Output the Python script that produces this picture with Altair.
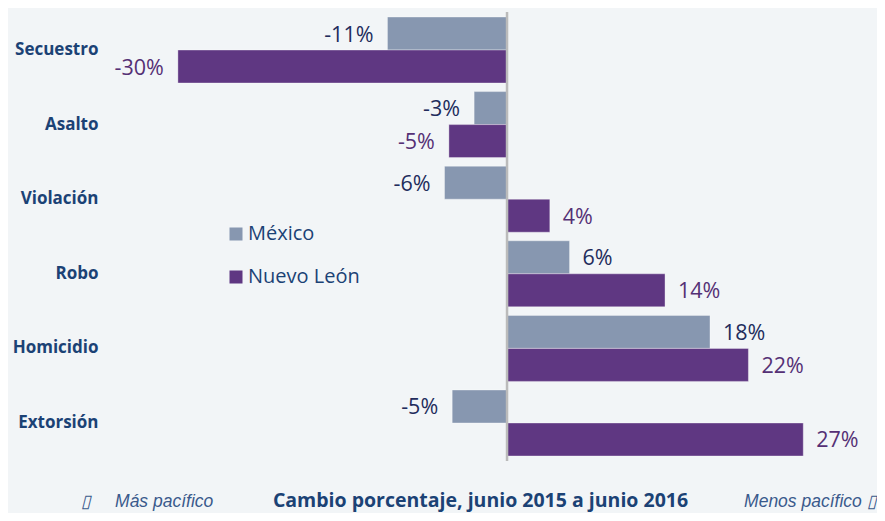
import altair as alt
import pandas as pd

categories = ["Secuestro", "Asalto", "Violación", "Robo", "Homicidio", "Extorsión"]
series = ["México", "Nuevo León"]
mexico = [-10.9, -3.0, -5.7, 5.7, 18.5, -5.0]
nuevo_leon = [-30.0, -5.3, 3.9, 14.4, 22.0, 27.0]
mexico_labels = ["-11%", "-3%", "-6%", "6%", "18%", "-5%"]
nl_labels = ["-30%", "-5%", "4%", "14%", "22%", "27%"]

rows = []
for i, c in enumerate(categories):
    rows.append({"category": c, "series": series[0], "value": mexico[i], "label": mexico_labels[i]})
    rows.append({"category": c, "series": series[1], "value": nuevo_leon[i], "label": nl_labels[i]})
df = pd.DataFrame(rows)

W, H = 760, 449
BG = "#F2F5F7"
NAVY = "#1B4275"

x_scale = alt.Scale(domain=[-36.37, 32.9], nice=False, zero=False)
y_scale = alt.Scale(domain=categories, paddingInner=0.115, paddingOuter=0.067)
off_scale = alt.Scale(domain=series, paddingInner=0.0, paddingOuter=0.0)

x_axis = alt.Axis(
    values=[-32.86, 27.6],
    labelExpr="datum.value < 0 ? '\u25af\u00a0\u00a0\u00a0\u00a0\u00a0Más pacífico' : 'Menos pacífico\u00a0\u25af'",
    labelFont="Liberation Sans", labelFontStyle="italic", labelFontSize=17.5,
    labelColor="#3A5A8C", labelBaseline="alphabetic", labelPadding=45,
    tickSize=0, ticks=False, domain=False, grid=False,
    title="Cambio porcentaje, junio 2015 a junio 2016",
    titleFont="Open Sans", titleFontWeight="bold", titleFontSize=19.5, titleColor=NAVY,
    titleBaseline="alphabetic", titleY=45, titleX=372, titleAlign="center",
)
y_axis = alt.Axis(
    title=None, labelFont="Open Sans", labelFontWeight="bold", labelFontSize=17,
    labelColor=NAVY, labelPadding=10, ticks=False, domain=False, grid=False,
)

base = alt.Chart(df)

bars = base.mark_bar(stroke="#FFFFFF", strokeWidth=0.6, strokeOpacity=0.6).encode(
    x=alt.X("value:Q", scale=x_scale, axis=x_axis),
    y=alt.Y("category:N", scale=y_scale, axis=y_axis, sort=categories),
    yOffset=alt.YOffset("series:N", scale=off_scale, sort=series),
    color=alt.Color(
        "series:N",
        scale=alt.Scale(domain=series, range=["#8797B0", "#5F3782"]),
        legend=alt.Legend(
            title=None, orient="none", legendX=118, legendY=212, symbolType="square",
            symbolSize=169, symbolStrokeWidth=0, labelFont="Open Sans", labelFontSize=20,
            labelColor=NAVY, rowPadding=23, labelOffset=2, padding=0,
        ),
    ),
)

text_color = alt.condition(alt.datum.series == "México", alt.value("#222C5C"), alt.value("#553075"))

neg_text = base.transform_filter(alt.datum.value < 0).mark_text(
    align="right", baseline="middle", dx=-14, dy=2, font="Open Sans", fontSize=21.5
).encode(
    x=alt.X("value:Q", scale=x_scale),
    y=alt.Y("category:N", scale=y_scale, sort=categories),
    yOffset=alt.YOffset("series:N", scale=off_scale, sort=series),
    text="label:N",
    color=text_color,
)

pos_text = base.transform_filter(alt.datum.value >= 0).mark_text(
    align="left", baseline="middle", dx=13, dy=2, font="Open Sans", fontSize=21.5
).encode(
    x=alt.X("value:Q", scale=x_scale),
    y=alt.Y("category:N", scale=y_scale, sort=categories),
    yOffset=alt.YOffset("series:N", scale=off_scale, sort=series),
    text="label:N",
    color=text_color,
)

rule = alt.Chart(pd.DataFrame({"zero": [0]})).mark_rule(color="#BBBBBB", strokeWidth=2.5).encode(
    x=alt.X("zero:Q", scale=x_scale)
)

chart = alt.layer(bars, rule, neg_text, pos_text).properties(
    width=W, height=H,
    background=BG,
    autosize=alt.AutoSizeParams(type="none"),
    padding={"left": 100, "top": 4, "right": 9, "bottom": 52},
).configure_view(stroke=None)

chart.save("out.html", embed_options={"renderer": "svg", "actions": False})
